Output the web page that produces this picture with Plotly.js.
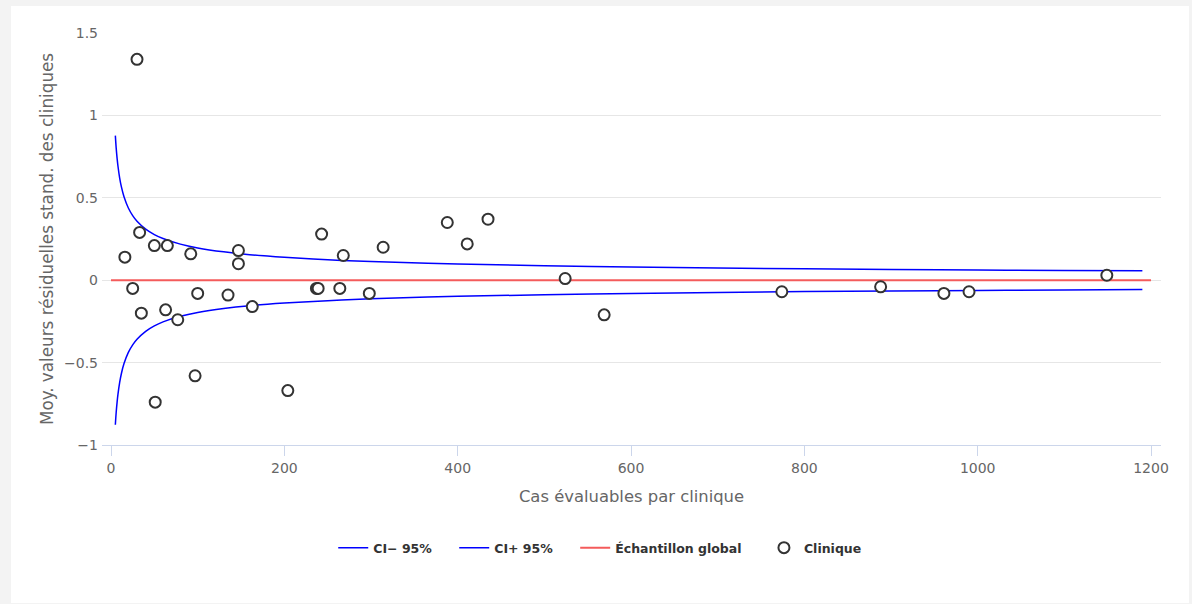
<!DOCTYPE html>
<html>
<head>
<meta charset="utf-8">
<script src="https://cdn.plot.ly/plotly-3.0.1.min.js"></script>
<style>
  html, body { margin: 0; padding: 0; background: #f3f3f3; width: 1192px; height: 604px; overflow: hidden; }
  #chart { position: absolute; left: 11px; top: 6px; width: 1178px; height: 597px; background: #ffffff; }
</style>
</head>
<body>
<div id="chart"></div>
<script>
// Clinics: evaluable cases and mean standardized residual
const clinicCases = [30, 16, 25, 33, 35, 50, 51, 65, 63, 77, 92, 100, 97, 135, 147, 147, 163, 204,
  237, 239, 243, 264, 268, 298, 314, 388, 411, 435, 524, 569, 774, 888, 961, 990, 1149];
const clinicResid = [1.34, 0.14, -0.05, 0.29, -0.20, 0.21, -0.74, 0.21, -0.18, -0.24, 0.16, -0.08, -0.58, -0.09, 0.18, 0.10, -0.16, -0.67,
  -0.05, -0.05, 0.28, -0.05, 0.15, -0.08, 0.20, 0.35, 0.22, 0.37, 0.01, -0.21, -0.07, -0.04, -0.08, -0.07, 0.03];

// Confidence band
const ciCases = [5, 6, 7, 8, 10, 12, 15, 20, 25, 30, 40, 50, 60, 80, 100, 130, 160, 200, 250, 300, 400, 500, 600, 700, 800, 900, 1000, 1100, 1190];
const ciUpper = [0.877, 0.800, 0.741, 0.693, 0.620, 0.566, 0.506, 0.438, 0.392, 0.358, 0.310, 0.277, 0.253, 0.219, 0.196, 0.172, 0.155, 0.139, 0.124, 0.113, 0.098, 0.088, 0.080, 0.074, 0.069, 0.065, 0.062, 0.059, 0.057];
const ciLower = [-0.877, -0.800, -0.741, -0.693, -0.620, -0.566, -0.506, -0.438, -0.392, -0.358, -0.310, -0.277, -0.253, -0.219, -0.196, -0.172, -0.155, -0.139, -0.124, -0.113, -0.098, -0.088, -0.080, -0.074, -0.069, -0.065, -0.062, -0.059, -0.057];

// Overall sample reference line
const globalCases = [0, 1200];
const globalResid = [0, 0];

const xTicks = [0, 200, 400, 600, 800, 1000, 1200];
const yTicks = [-1, -0.5, 0, 0.5, 1, 1.5];

const FONT = '"DejaVu Sans", Verdana, sans-serif';
const PAD = '\u00a0\u00a0\u00a0\u00a0';

const traces = [
  { x: ciCases, y: ciLower, name: 'CI− 95%' + PAD, mode: 'lines', line: { color: '#0000ff', width: 1.5, shape: 'spline' } },
  { x: ciCases, y: ciUpper, name: 'CI+ 95%' + PAD, mode: 'lines', line: { color: '#0000ff', width: 1.5, shape: 'spline' } },
  { x: globalCases, y: globalResid, name: 'Échantillon global' + PAD, mode: 'lines', line: { color: '#f45b5b', width: 2 } },
  { x: clinicCases, y: clinicResid, name: 'Clinique', mode: 'markers', marker: { symbol: 'circle', size: 11, color: '#ffffff', line: { color: '#333333', width: 2 } } }
];

const layout = {
  width: 1178, height: 597,
  margin: { l: 91, r: 28, t: 27, b: 158 },
  paper_bgcolor: '#ffffff', plot_bgcolor: '#ffffff',
  font: { family: FONT, color: '#666666', size: 13 },
  showlegend: true,
  hovermode: false,
  xaxis: {
    range: [-10.4, 1211.5],
    tickvals: xTicks, ticktext: xTicks.map(String),
    showgrid: false, zeroline: false,
    showline: true, linecolor: '#ccd6eb', linewidth: 1,
    ticks: 'outside', ticklen: 10, tickcolor: '#ccd6eb', tickwidth: 1,
    tickfont: { size: 14, color: '#666666' },
    title: { text: 'Cas évaluables par clinique', font: { size: 16.4, color: '#666666' }, standoff: 15 }
  },
  yaxis: {
    range: [-1, 1.5],
    tickvals: yTicks, ticktext: ['−1', '−0.5', '0', '0.5', '1', '1.5'],
    showgrid: true, gridcolor: '#e6e6e6', gridwidth: 1,
    zeroline: false, showline: false, ticks: '',
    ticklabelstandoff: 3,
    tickfont: { size: 14, color: '#666666' },
    title: { text: 'Moy. valeurs résiduelles stand. des cliniques', font: { size: 16.8, color: '#666666' }, standoff: 6 }
  },
  legend: {
    orientation: 'h', x: 0.47, xanchor: 'center', y: -0.25, yanchor: 'middle',
    font: { family: FONT, size: 12.5, color: '#333333', weight: 'bold' },
    itemwidth: 30, bgcolor: 'rgba(0,0,0,0)'
  }
};

Plotly.newPlot('chart', traces, layout, { displayModeBar: false, staticPlot: true });
</script>
</body>
</html>
